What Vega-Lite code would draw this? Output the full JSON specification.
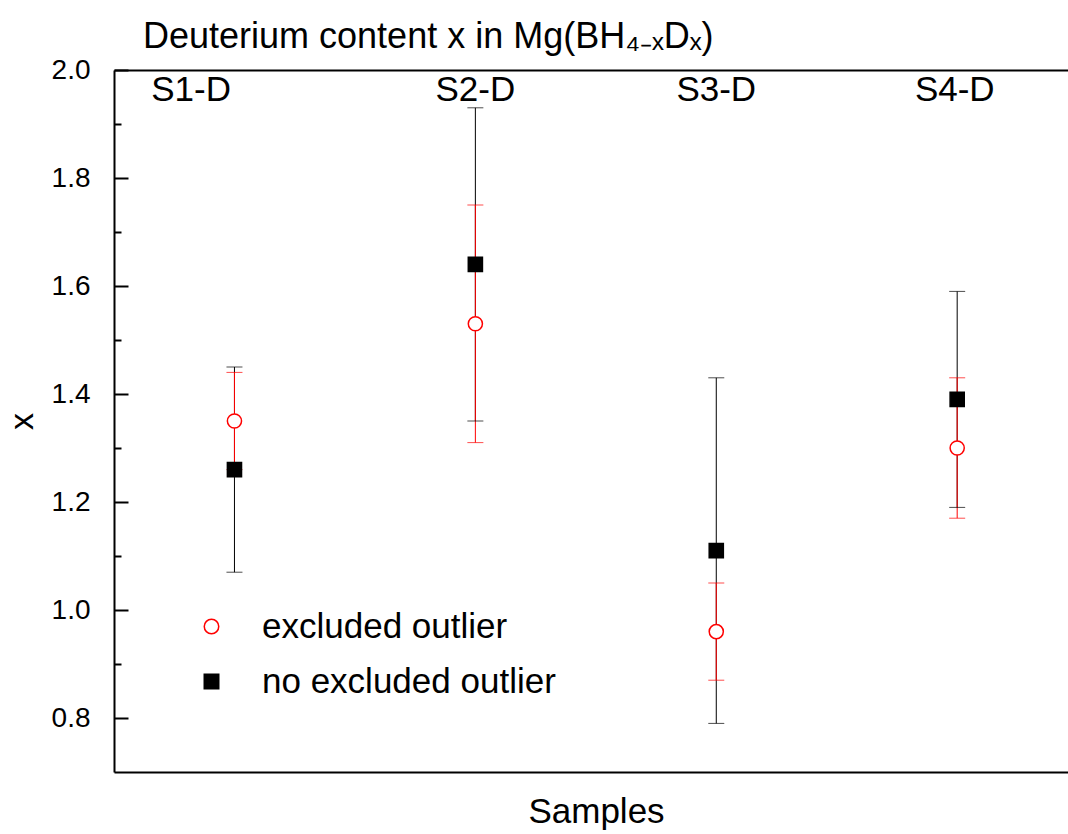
{
  "$schema": "https://vega.github.io/schema/vega-lite/v6.json",
  "autosize": {"type": "fit", "contains": "padding"},
  "width": 1068,
  "height": 834,
  "padding": {"left": 5, "top": 19, "right": 0, "bottom": 5},
  "background": "white",
  "config": {
    "view": {"stroke": null},
    "font": "Liberation Sans",
    "axis": {"labelFont": "Liberation Sans", "titleFont": "Liberation Sans", "labelColor": "black", "titleColor": "black", "domainColor": "black", "tickColor": "black", "grid": false, "titleFontWeight": "normal"}
  },
  "title": {
    "text": "Deuterium content x in Mg(BH₄₋ₓDₓ)",
    "anchor": "start",
    "frame": "group",
    "dx": 29,
    "offset": -28,
    "baseline": "alphabetic",
    "fontSize": 36,
    "font": "Liberation Sans",
    "fontWeight": "normal",
    "color": "black"
  },
  "datasets": {
    "pts": [
      {"sample": "S1-D", "pos": 1, "series": "no excluded outlier", "value": 1.26, "lo": 1.07, "hi": 1.45},
      {"sample": "S2-D", "pos": 2, "series": "no excluded outlier", "value": 1.64, "lo": 1.35, "hi": 1.93},
      {"sample": "S3-D", "pos": 3, "series": "no excluded outlier", "value": 1.11, "lo": 0.79, "hi": 1.43},
      {"sample": "S4-D", "pos": 4, "series": "no excluded outlier", "value": 1.39, "lo": 1.19, "hi": 1.59},
      {"sample": "S1-D", "pos": 1, "series": "excluded outlier", "value": 1.35, "lo": 1.26, "hi": 1.44},
      {"sample": "S2-D", "pos": 2, "series": "excluded outlier", "value": 1.53, "lo": 1.31, "hi": 1.75},
      {"sample": "S3-D", "pos": 3, "series": "excluded outlier", "value": 0.96, "lo": 0.87, "hi": 1.05},
      {"sample": "S4-D", "pos": 4, "series": "excluded outlier", "value": 1.30, "lo": 1.17, "hi": 1.43}
    ],
    "labels": [
      {"sample": "S1-D", "pos": 0.82},
      {"sample": "S2-D", "pos": 2},
      {"sample": "S3-D", "pos": 3},
      {"sample": "S4-D", "pos": 3.99}
    ]
  },
  "resolve": {"scale": {"x": "independent"}},
  "layer": [
    {
      "data": {"name": "pts"},
      "layer": [
        {
          "mark": {"type": "rule", "strokeWidth": 1},
          "encoding": {
            "x": {"field": "pos", "type": "quantitative", "scale": {"domain": [0.5, 4.46], "nice": false, "zero": false},
              "axis": {"orient": "bottom", "domain": true, "domainWidth": 2, "ticks": false, "labels": false, "title": "Samples", "titleFontSize": 35, "titlePadding": 22, "titleX": 482}},
            "y": {"field": "lo", "type": "quantitative"},
            "y2": {"field": "hi"},
            "color": {"field": "series", "type": "nominal", "scale": {"domain": ["no excluded outlier", "excluded outlier"], "range": ["#000000", "#ff0000"]}, "legend": null}
          }
        },
        {
          "mark": {"type": "tick", "orient": "horizontal", "size": 16, "thickness": 1},
          "encoding": {
            "x": {"field": "pos", "type": "quantitative"},
            "y": {"field": "lo", "type": "quantitative"},
            "color": {"field": "series", "type": "nominal", "scale": {"domain": ["no excluded outlier", "excluded outlier"], "range": ["#000000", "#ff0000"]}, "legend": null}
          }
        },
        {
          "mark": {"type": "tick", "orient": "horizontal", "size": 16, "thickness": 1},
          "encoding": {
            "x": {"field": "pos", "type": "quantitative"},
            "y": {"field": "hi", "type": "quantitative"},
            "color": {"field": "series", "type": "nominal", "scale": {"domain": ["no excluded outlier", "excluded outlier"], "range": ["#000000", "#ff0000"]}, "legend": null}
          }
        },
        {
          "mark": {"type": "point", "size": 200, "strokeWidth": 1.5, "opacity": 1},
          "encoding": {
            "x": {"field": "pos", "type": "quantitative"},
            "y": {"field": "value", "type": "quantitative",
              "scale": {"domain": [0.7, 2.0], "nice": false, "zero": false},
              "axis": {"orient": "left", "values": [0.8, 0.9, 1.0, 1.1, 1.2, 1.3, 1.4, 1.5, 1.6, 1.7, 1.8, 1.9, 2.0],
                "labelExpr": "round(datum.value*10)%2==0 ? format(datum.value, '.1f') : ''",
                "tickSize": {"condition": {"test": "round(datum.value*10)%2==0", "value": -14}, "value": -7},
                "tickWidth": 2, "domainWidth": 2, "labelFontSize": 28, "labelPadding": 38,
                "title": "x", "titleFontSize": 34, "titlePadding": 12}},
            "shape": {"field": "series", "type": "nominal", "scale": {"domain": ["excluded outlier", "no excluded outlier"], "range": ["circle", "square"]},
              "legend": {"orient": "none", "legendX": 80, "legendY": 539, "padding": 0, "title": null,
                "labelFont": "Liberation Sans", "labelFontSize": 35, "labelColor": "black", "labelOffset": 33, "labelLimit": 0,
                "rowPadding": 19, "symbolSize": 210, "symbolStrokeWidth": 1.5}},
            "fill": {"field": "series", "type": "nominal", "scale": {"domain": ["excluded outlier", "no excluded outlier"], "range": ["#ffffff", "#000000"]}},
            "stroke": {"field": "series", "type": "nominal", "scale": {"domain": ["excluded outlier", "no excluded outlier"], "range": ["#ff0000", "#000000"]}}
          }
        }
      ]
    },
    {
      "data": {"name": "labels"},
      "mark": {"type": "text", "fontSize": 35, "font": "Liberation Sans", "baseline": "alphabetic", "align": "center", "dy": 31, "color": "black"},
      "encoding": {
        "x": {"field": "pos", "type": "quantitative", "scale": {"domain": [0.5, 4.46], "nice": false, "zero": false},
          "axis": {"orient": "top", "domain": true, "domainWidth": 2, "ticks": false, "labels": false, "title": null}},
        "y": {"datum": 2.0, "type": "quantitative"},
        "text": {"field": "sample"}
      }
    }
  ],
  "encoding": {}
}
